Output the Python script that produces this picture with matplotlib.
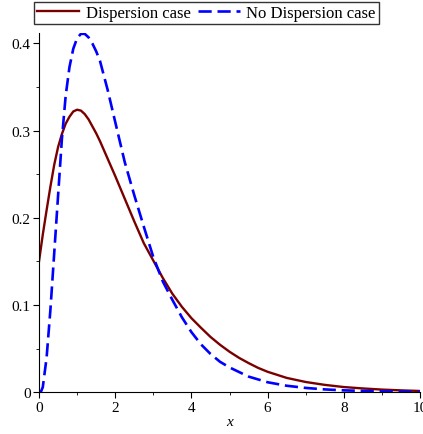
import matplotlib
matplotlib.use('Agg')
import matplotlib.pyplot as plt
from matplotlib.ticker import MultipleLocator, FuncFormatter

# values
x_disp = [0, 0.1, 0.2, 0.3, 0.4, 0.5, 0.6, 0.7, 0.8, 0.9, 1.0, 1.1, 1.2, 1.3, 1.4, 1.5,
          1.6, 1.7, 1.8, 2.0, 2.25, 2.5, 2.75, 3.0, 3.25, 3.5, 3.75, 4.0, 4.25, 4.5,
          4.75, 5.0, 5.25, 5.5, 5.75, 6.0, 6.5, 7.0, 7.5, 8.0, 8.5, 9.0, 9.5, 10.0]
y_disp = [0.150, 0.181, 0.209, 0.236, 0.261, 0.281, 0.296, 0.308, 0.316, 0.322, 0.324,
          0.323, 0.319, 0.313, 0.305, 0.297, 0.288, 0.278, 0.268, 0.248, 0.222, 0.196,
          0.171, 0.151, 0.131, 0.113, 0.098, 0.085, 0.074, 0.0635, 0.0545, 0.0465,
          0.0395, 0.0335, 0.028, 0.0235, 0.0165, 0.0118, 0.0085, 0.006, 0.0044, 0.0031,
          0.0022, 0.0015]

x_nodisp = [0, 0.05, 0.1, 0.2, 0.3, 0.4, 0.5, 0.6, 0.7, 0.8, 0.9, 1.0, 1.1, 1.2, 1.3,
            1.4, 1.5, 1.6, 1.8, 2.0, 2.25, 2.5, 2.75, 3.0, 3.25, 3.5, 3.75, 4.0, 4.25,
            4.5, 4.75, 5.0, 5.5, 6.0, 6.5, 7.0, 7.5, 8.0, 9.0, 10.0]
y_nodisp = [0.0, 0.0005, 0.006, 0.040, 0.095, 0.160, 0.225, 0.290, 0.340, 0.373, 0.394,
            0.406, 0.411, 0.411, 0.407, 0.400, 0.391, 0.380, 0.347, 0.310, 0.264, 0.226,
            0.190, 0.155, 0.127, 0.106, 0.086, 0.069, 0.055, 0.044, 0.035, 0.0285,
            0.018, 0.0115, 0.0075, 0.005, 0.0033, 0.0022, 0.001, 0.0004]

plt.rcParams['font.family'] = ['Liberation Serif', 'DejaVu Serif']

fig = plt.figure(figsize=(4.23, 4.35), dpi=100)
ax = fig.add_axes([0.0922, 0.0959, 0.9008, 0.826])

l1, = ax.plot(x_disp, y_disp, color='#7a0000', lw=1.7, label='Dispersion case')
l2, = ax.plot(x_nodisp, y_nodisp, color='#0000ff', lw=1.9, dashes=(5, 2.2),
              label='No Dispersion case')

ax.set_xlim(0, 10)
ax.set_ylim(0, 0.412)
for s in ['top', 'right']:
    ax.spines[s].set_visible(False)
for s in ['left', 'bottom']:
    ax.spines[s].set_linewidth(0.8)

ax.xaxis.set_major_locator(MultipleLocator(2))
ax.xaxis.set_minor_locator(MultipleLocator(1))
ax.yaxis.set_major_locator(MultipleLocator(0.1))
ax.yaxis.set_minor_locator(MultipleLocator(0.05))
ax.yaxis.set_major_formatter(FuncFormatter(lambda v, p: '0' if v == 0 else '%.1f' % v))
ax.tick_params(which='major', length=4, width=0.8, labelsize=11, pad=2)
ax.tick_params(which='minor', length=2, width=0.6)

ax.set_xlabel('x', fontstyle='italic', fontsize=11, labelpad=1)

fig.legend(handles=[l1, l2], loc='upper left', bbox_to_anchor=(0.08, 0.994), ncol=2,
           fontsize=12, frameon=True, fancybox=False, edgecolor='black',
           handlelength=2.5, handletextpad=0.4, columnspacing=0.45,
           borderpad=0.2, borderaxespad=0)

fig.savefig('out.png', dpi=100)
